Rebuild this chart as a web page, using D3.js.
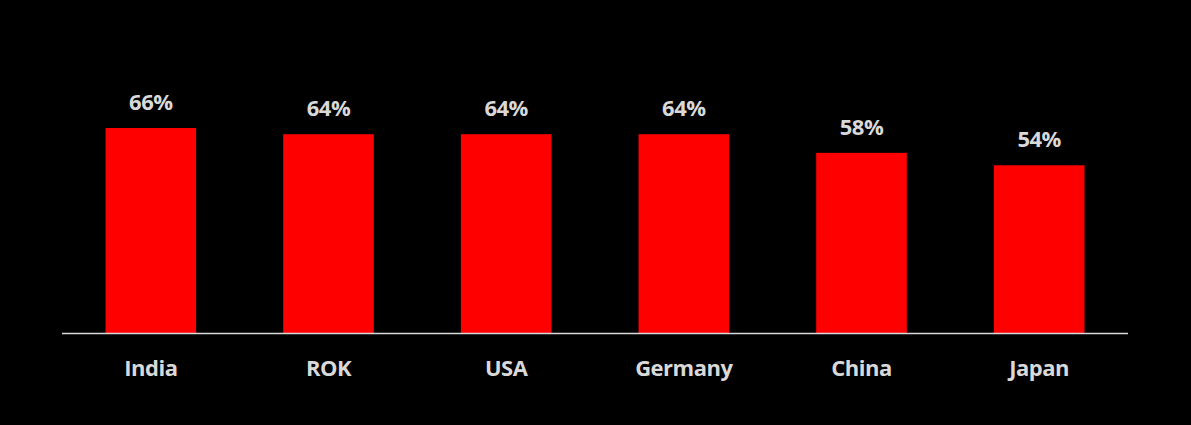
<!DOCTYPE html>
<html><head><meta charset="utf-8">
<script src="https://cdn.jsdelivr.net/npm/d3@7"></script>
<style>html,body{margin:0;padding:0;background:#000;}svg{display:block;}</style>
</head><body>
<svg id="chart" width="1191" height="425"></svg>
<script>
const categories = ["India", "ROK", "USA", "Germany", "China", "Japan"];
const values = [66, 64, 64, 64, 58, 54];

const svg = d3.select("#chart");
svg.append("rect").attr("width", 1191).attr("height", 425).attr("fill", "#000");

const x = d3.scaleBand().domain(categories).range([62, 1128]).paddingInner(0.49).paddingOuter(0.245);
const y = d3.scaleLinear().domain([0, 100]).range([333, 22.4]);
const font = "'Open Sans', Lato, sans-serif";

svg.selectAll("rect.bar").data(values).join("rect")
  .attr("class", "bar")
  .attr("x", (d, i) => x(categories[i]))
  .attr("width", x.bandwidth())
  .attr("y", d => y(d))
  .attr("height", d => y(0) - y(d))
  .attr("fill", "#ff0000");

svg.selectAll("text.val").data(values).join("text")
  .attr("class", "val")
  .attr("x", (d, i) => x(categories[i]) + x.bandwidth() / 2)
  .attr("y", d => y(d) - 18)
  .attr("text-anchor", "middle")
  .attr("font-family", font)
  .attr("font-weight", "bold")
  .attr("font-size", 22)
  .attr("letter-spacing", -0.5)
  .attr("fill", "#d9d9d9")
  .text(d => d + "%");

const axis = svg.append("g").attr("transform", "translate(0,333.5)")
  .call(d3.axisBottom(x).tickSize(0));
axis.select(".domain").attr("stroke", "#d9d9d9").attr("stroke-width", 1.5)
  .attr("d", "M62,0H1128");
axis.selectAll(".tick text")
  .attr("y", 42)
  .attr("dy", 0)
  .attr("font-family", font)
  .attr("font-weight", "bold")
  .attr("font-size", 22)
  .attr("letter-spacing", -0.5)
  .attr("fill", "#d9d9d9");
</script>
</body></html>
